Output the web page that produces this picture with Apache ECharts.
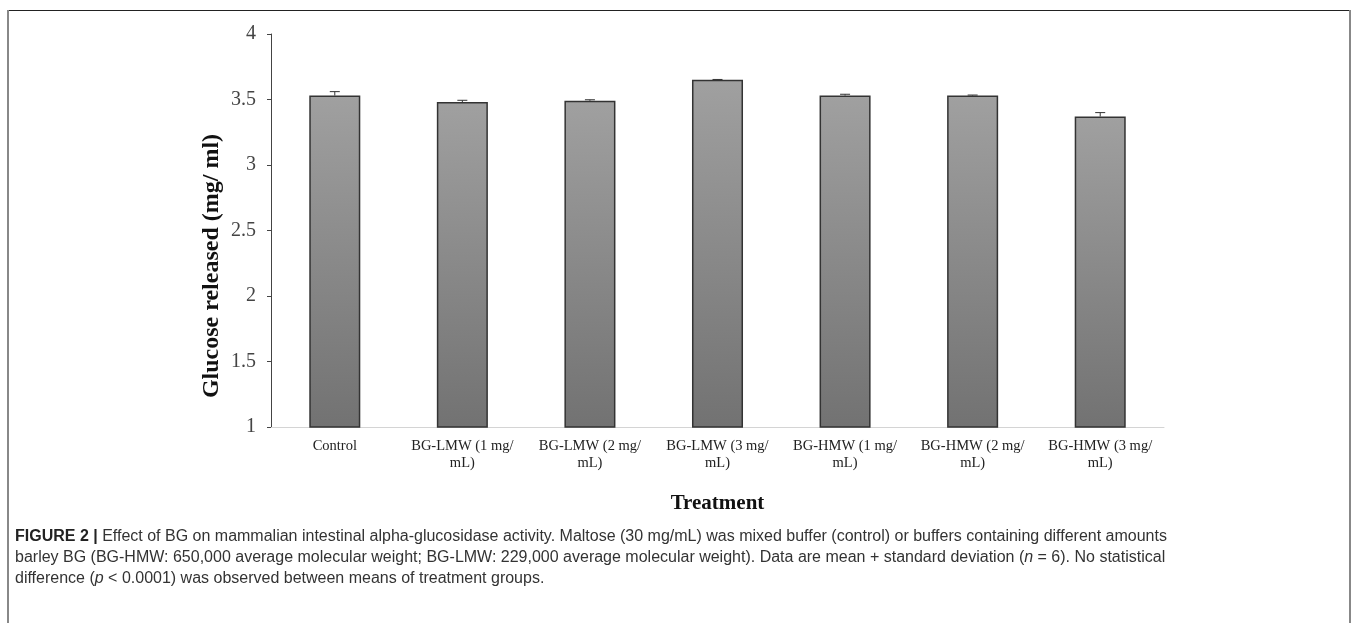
<!DOCTYPE html>
<html>
<head>
<meta charset="utf-8">
<script src="https://cdn.jsdelivr.net/npm/echarts@6/dist/echarts.min.js"></script>
<style>
html,body{margin:0;padding:0;background:#fff;}
#chart{width:1358px;height:623px;}
</style>
</head>
<body>
<div id="chart"></div>
<script>
const categories = ['Control', 'BG-LMW (1 mg/\nmL)', 'BG-LMW (2 mg/\nmL)', 'BG-LMW (3 mg/\nmL)', 'BG-HMW (1 mg/\nmL)', 'BG-HMW (2 mg/\nmL)', 'BG-HMW (3 mg/\nmL)'];
const means = [3.53, 3.48, 3.49, 3.65, 3.53, 3.53, 3.37];
const sds = [0.03, 0.014, 0.008, 0.003, 0.01, 0.004, 0.03];
const yTicks = { min: 1, max: 4, interval: 0.5 };
const yTitle = 'Glucose released (mg/ ml)';
const xTitle = 'Treatment';
const captionLines = [
  [{t:'FIGURE 2 | ', s:'b'}, {t:'Effect of BG on mammalian intestinal alpha-glucosidase activity. Maltose (30 mg/mL) was mixed buffer (control) or buffers containing different amounts', s:'n'}],
  [{t:'barley BG (BG-HMW: 650,000 average molecular weight; BG-LMW: 229,000 average molecular weight). Data are mean + standard deviation (', s:'n'}, {t:'n', s:'i'}, {t:' = 6). No statistical', s:'n'}],
  [{t:'difference (', s:'n'}, {t:'p', s:'i'}, {t:' < 0.0001) was observed between means of treatment groups.', s:'n'}]
];

const chart = echarts.init(document.getElementById('chart'), null, {renderer:'canvas'});
const serif = '"Liberation Serif", "Times New Roman", serif';
const sans = '"Liberation Sans", Arial, Helvetica, sans-serif';
const capSize = 16;
const capRich = {
  b: {fontFamily: sans, fontWeight: 'bold', fontSize: capSize, fill: '#222'},
  n: {fontFamily: sans, fontSize: capSize, fill: '#333'},
  i: {fontFamily: sans, fontStyle: 'italic', fontSize: capSize, fill: '#333'}
};

const graphics = [
  {type:'line', shape:{x1:7, y1:10.5, x2:1351, y2:10.5}, style:{stroke:'#222', lineWidth:1}, silent:true},
  {type:'line', shape:{x1:8, y1:10, x2:8, y2:623}, style:{stroke:'#888', lineWidth:2}, silent:true},
  {type:'line', shape:{x1:1350, y1:10, x2:1350, y2:623}, style:{stroke:'#888', lineWidth:2}, silent:true},
  {type:'text', x: 212, y: 266, rotation: Math.PI / 2, silent: true,
   style:{text: yTitle, fontFamily: serif, fontWeight: 'bold', fontSize: 24, fill: '#111', align: 'center', verticalAlign: 'middle'}}
];
const capY = [539, 560, 581];
captionLines.forEach((ln, i) => {
  graphics.push({
    type:'text', left: 15, top: capY[i] - 10, silent:true,
    style:{ text: ln.map(p => '{' + p.s + '|' + p.t + '}').join(''), rich: capRich, fontFamily: sans, fontSize: capSize, fill:'#333' }
  });
});

chart.setOption({
  animation: false,
  grid: {left: 271, right: 194, top: 34, bottom: 196, containLabel: false},
  xAxis: {
    type: 'category',
    data: categories,
    name: xTitle,
    nameLocation: 'middle',
    nameGap: 66,
    nameTextStyle: {fontFamily: serif, fontWeight: 'bold', fontSize: 21, color: '#111'},
    axisLine: {lineStyle: {color: '#d4d4d4', width: 1}},
    axisTick: {show: false},
    axisLabel: {fontFamily: serif, fontSize: 14.5, color: '#222', margin: 11, lineHeight: 17, interval: 0}
  },
  yAxis: {
    type: 'value',
    min: yTicks.min, max: yTicks.max, interval: yTicks.interval,
    axisLine: {show: true, lineStyle: {color: '#444', width: 1}},
    axisTick: {show: true, length: 4, lineStyle: {color: '#444'}},
    axisLabel: {fontFamily: serif, fontSize: 20, color: '#444', margin: 15},
    splitLine: {show: false}
  },
  series: [
    {
      type: 'bar',
      data: means,
      barWidth: '40%',
      itemStyle: {
        color: new echarts.graphic.LinearGradient(0, 0, 0, 1, [
          {offset: 0, color: '#a0a0a0'},
          {offset: 1, color: '#727272'}
        ]),
        borderColor: '#333',
        borderWidth: 1.5
      },
      z: 2
    },
    {
      type: 'custom',
      data: means.map((m, i) => [i, m, sds[i]]),
      renderItem: function(params, api){
        const x = api.value(0);
        const m = api.value(1);
        const s = api.value(2);
        const p0 = api.coord([x, m]);
        const p1 = api.coord([x, m + s]);
        const cap = 5;
        return {
          type: 'group',
          children: [
            {type:'line', shape:{x1:p0[0], y1:p0[1], x2:p1[0], y2:p1[1]}, style:{stroke:'#333', lineWidth:1}},
            {type:'line', shape:{x1:p1[0]-cap, y1:p1[1], x2:p1[0]+cap, y2:p1[1]}, style:{stroke:'#333', lineWidth:1}}
          ]
        };
      },
      z: 3
    }
  ],
  graphic: graphics
});
</script>
</body>
</html>
